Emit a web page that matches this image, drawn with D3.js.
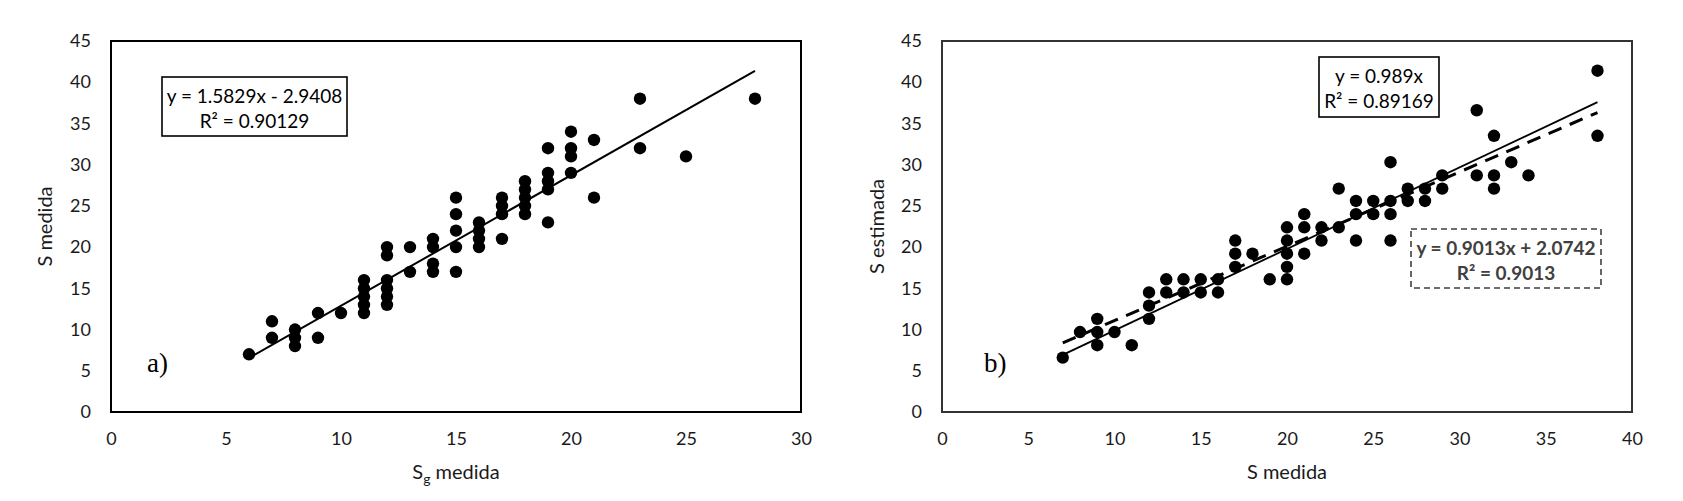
<!DOCTYPE html>
<html>
<head>
<meta charset="utf-8">
<script src="https://cdn.jsdelivr.net/npm/d3@7/dist/d3.min.js"></script>
<style>
  html, body { margin: 0; padding: 0; background: #fff; }
  svg text { font-family: Lato, "Open Sans", sans-serif; }
</style>
</head>
<body>
<div id="chart"></div>
<script>
// panel a) : S medida against Sg medida
var sgMedida = [6, 7, 7, 8, 8, 8, 9, 9, 10, 11, 11, 11, 11, 11, 12, 12, 12, 12, 12, 12,
  13, 13, 14, 14, 14, 14, 15, 15, 15, 15, 15, 16, 16, 16, 16, 17, 17, 17, 17,
  18, 18, 18, 18, 18, 19, 19, 19, 19, 19, 20, 20, 20, 20, 21, 21, 23, 23, 25, 28];
var sMedidaA = [7, 11, 9, 10, 9, 8, 12, 9, 12, 12, 13, 14, 15, 16, 13, 14, 15, 16, 19, 20,
  17, 20, 17, 18, 20, 21, 17, 20, 22, 24, 26, 20, 21, 22, 23, 21, 24, 25, 26,
  24, 25, 26, 27, 28, 23, 27, 28, 29, 32, 29, 31, 32, 34, 26, 33, 32, 38, 31, 38];

// panel b) : S estimada against S medida
var sMedidaB = [7, 11, 9, 10, 9, 8, 12, 9, 12, 12, 13, 14, 15, 16, 13, 14, 15, 16, 19, 20,
  17, 20, 17, 18, 20, 21, 17, 20, 22, 24, 26, 20, 21, 22, 23, 21, 24, 25, 26,
  24, 25, 26, 27, 28, 23, 27, 28, 29, 32, 29, 31, 32, 34, 26, 33, 32, 38, 31, 38];
var sEstimada = [6.6, 8.1, 8.1, 9.7, 9.7, 9.7, 11.3, 11.3, 12.9, 14.5, 14.5, 14.5, 14.5, 14.5,
  16.1, 16.1, 16.1, 16.1, 16.1, 16.1, 17.6, 17.6, 19.2, 19.2, 19.2, 19.2,
  20.8, 20.8, 20.8, 20.8, 20.8, 22.4, 22.4, 22.4, 22.4, 24.0, 24.0, 24.0, 24.0,
  25.6, 25.6, 25.6, 25.6, 25.6, 27.1, 27.1, 27.1, 27.1, 27.1, 28.7, 28.7, 28.7, 28.7,
  30.3, 30.3, 33.5, 33.5, 36.6, 41.4];

// trend lines: [slope, intercept, x from, x to]
var trendA = [1.5829, -2.9408, 6, 28];
var trendB = [0.989, 0, 7, 38];
var trendB2 = [0.9013, 2.0742, 7, 38];

var yTicks = [0, 5, 10, 15, 20, 25, 30, 35, 40, 45];
var xTicksA = [0, 5, 10, 15, 20, 25, 30];
var xTicksB = [0, 5, 10, 15, 20, 25, 30, 35, 40];

var labelsA = ["y = 1.5829x - 2.9408", "R² = 0.90129"];
var labelsB = ["y = 0.989x", "R² = 0.89169"];
var labelsB2 = ["y = 0.9013x + 2.0742", "R² = 0.9013"];

var W = 1683, H = 501;
var svg = d3.select("#chart").append("svg")
  .attr("width", W)
  .attr("height", H);

/**
 * draws one scatter panel
 * @param {any} p
 */
function drawPanel(p) {
  var x = d3.scaleLinear().domain([0, p.xMax]).range([p.left, p.right]);
  var y = d3.scaleLinear().domain([0, 45]).range([p.bottom, p.top]);
  var g = svg.append("g");

  var yAxis = g.append("g")
    .attr("transform", "translate(" + p.left + ",0)")
    .call(d3.axisLeft(y).tickValues(yTicks).tickSize(0).tickPadding(20));
  var xAxis = g.append("g")
    .attr("transform", "translate(0," + p.bottom + ")")
    .call(d3.axisBottom(x).tickValues(p.xTicks).tickSize(0).tickPadding(20));
  [xAxis, yAxis].forEach(function (a) {
    a.select(".domain").remove();
    a.selectAll("text").style("font-size", "18px").attr("fill", "#1a1a1a")
      .style("font-family", "Lato, sans-serif");
  });

  // plot frame
  g.append("rect")
    .attr("x", p.left).attr("y", p.top)
    .attr("width", p.right - p.left).attr("height", p.bottom - p.top)
    .attr("fill", "none").attr("stroke", p.frame).attr("stroke-width", 2);

  // points
  g.append("g").selectAll("circle")
    .data(p.xs.map(function (v, i) { return [v, p.ys[i]]; }))
    .enter().append("circle")
    .attr("cx", function (d) { return x(d[0]); })
    .attr("cy", function (d) { return y(d[1]); })
    .attr("r", 6.2)
    .attr("fill", "#000");

  // trend lines
  p.trends.forEach(function (t) {
    var tr = t[0];
    g.append("line")
      .attr("x1", x(tr[2])).attr("y1", y(tr[0] * tr[2] + tr[1]))
      .attr("x2", x(tr[3])).attr("y2", y(tr[0] * tr[3] + tr[1]))
      .attr("stroke", "#000")
      .attr("stroke-width", t[1])
      .attr("stroke-dasharray", t[2]);
  });

  // equation boxes
  p.boxes.forEach(function (b) {
    g.append("rect")
      .attr("x", b.x).attr("y", b.y).attr("width", b.w).attr("height", b.h)
      .attr("fill", "#fff").attr("stroke", b.stroke)
      .attr("stroke-width", 1.6)
      .attr("stroke-dasharray", b.dash);
    g.selectAll(null).data(b.lines).enter().append("text")
      .attr("x", b.x + b.w / 2)
      .attr("y", function (d, i) { return b.y + 26 + i * 24.5; })
      .attr("text-anchor", "middle")
      .attr("fill", b.color)
      .style("font-size", "19px")
      .style("font-weight", b.weight)
      .text(function (d) { return d; });
  });

  // axis titles
  var xt = g.append("text")
    .attr("x", (p.left + p.right) / 2).attr("y", 479)
    .attr("text-anchor", "middle").attr("fill", "#1a1a1a")
    .style("font-size", "20px");
  xt.append("tspan").text("S");
  if (p.sub) {
    xt.append("tspan").text(p.sub).attr("dy", 5).style("font-size", "14px");
    xt.append("tspan").text(" medida").attr("dy", -5);
  } else {
    xt.append("tspan").text(" medida");
  }
  g.append("text")
    .attr("transform", "translate(" + p.ytX + "," + ((p.top + p.bottom) / 2) + ") rotate(-90)")
    .attr("text-anchor", "middle").attr("fill", "#1a1a1a")
    .style("font-size", "20px")
    .text(p.yTitle);

  // panel letter
  g.append("text")
    .attr("x", p.letterX).attr("y", 372)
    .style("font-family", "'Liberation Serif', 'Times New Roman', serif")
    .style("font-size", "27px")
    .attr("fill", "#000")
    .text(p.letter);
}

drawPanel({
  left: 111, right: 801, top: 41, bottom: 412, xMax: 30, xTicks: xTicksA,
  xs: sgMedida, ys: sMedidaA, frame: "#000",
  trends: [[trendA, 2, null]],
  boxes: [{ x: 162, y: 77, w: 185, h: 59, stroke: "#000", dash: null, lines: labelsA, color: "#000", weight: "normal" }],
  sub: "g", yTitle: "S medida", ytX: 52, letter: "a)", letterX: 147
});

drawPanel({
  left: 942, right: 1632, top: 41, bottom: 412, xMax: 40, xTicks: xTicksB,
  xs: sMedidaB, ys: sEstimada, frame: "#333",
  trends: [[trendB, 1.8, null], [trendB2, 3, "14,9"]],
  boxes: [
    { x: 1319, y: 57, w: 120, h: 60, stroke: "#000", dash: null, lines: labelsB, color: "#000", weight: "normal" },
    { x: 1411, y: 229, w: 190, h: 59, stroke: "#404040", dash: "6,4", lines: labelsB2, color: "#404040", weight: "bold" }
  ],
  sub: null, yTitle: "S estimada", ytX: 884, letter: "b)", letterX: 984
});
</script>
</body>
</html>
